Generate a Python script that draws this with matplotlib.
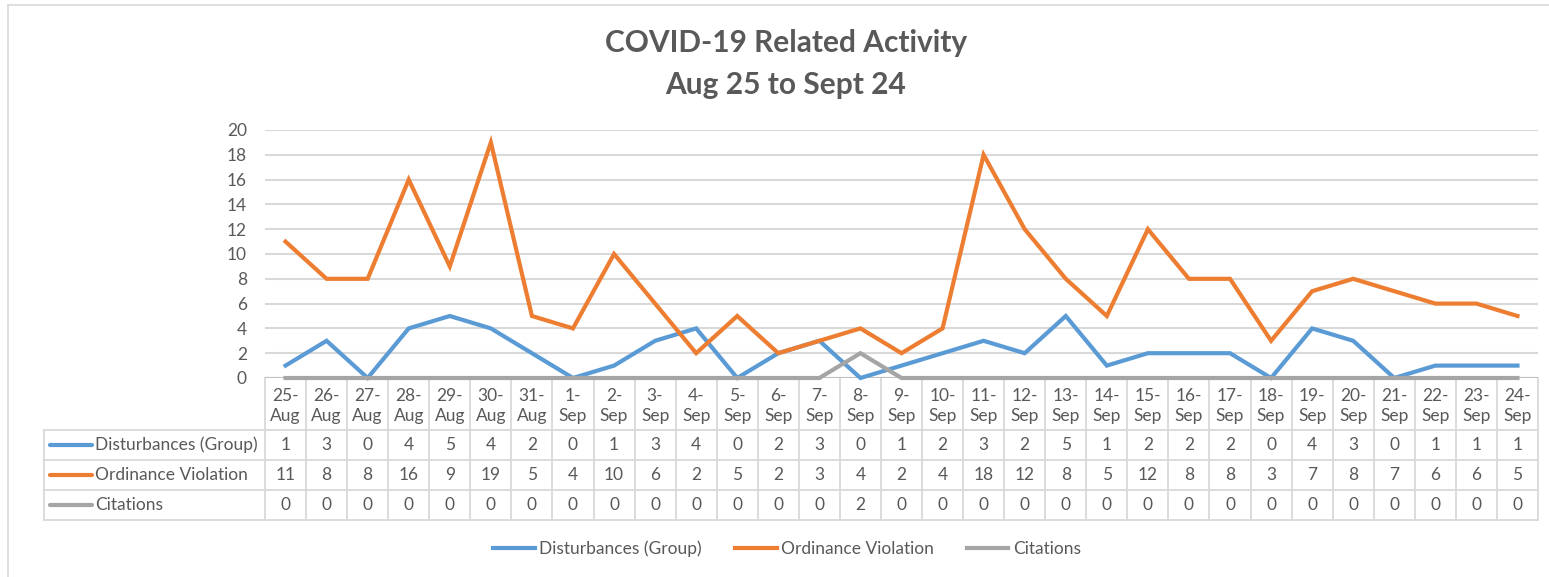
import matplotlib
matplotlib.use('Agg')
import matplotlib.pyplot as plt
from matplotlib.lines import Line2D

plt.rcParams['font.family'] = ['Lato', 'DejaVu Sans']

dates = ['25-Aug', '26-Aug', '27-Aug', '28-Aug', '29-Aug', '30-Aug', '31-Aug',
         '1-Sep', '2-Sep', '3-Sep', '4-Sep', '5-Sep', '6-Sep', '7-Sep', '8-Sep',
         '9-Sep', '10-Sep', '11-Sep', '12-Sep', '13-Sep', '14-Sep', '15-Sep',
         '16-Sep', '17-Sep', '18-Sep', '19-Sep', '20-Sep', '21-Sep', '22-Sep',
         '23-Sep', '24-Sep']
disturbances = [1, 3, 0, 4, 5, 4, 2, 0, 1, 3, 4, 0, 2, 3, 0, 1, 2, 3, 2, 5,
                1, 2, 2, 2, 0, 4, 3, 0, 1, 1, 1]
ordinance = [11, 8, 8, 16, 9, 19, 5, 4, 10, 6, 2, 5, 2, 3, 4, 2, 4, 18, 12, 8,
             5, 12, 8, 8, 3, 7, 8, 7, 6, 6, 5]
citations = [0, 0, 0, 0, 0, 0, 0, 0, 0, 0, 0, 0, 0, 0, 2, 0, 0, 0, 0, 0,
             0, 0, 0, 0, 0, 0, 0, 0, 0, 0, 0]
series_names = ['Disturbances (Group)', 'Ordinance Violation', 'Citations']
colors = ['#5B9BD5', '#ED7D31', '#A5A5A5']

W, H = 1549, 577
fig = plt.figure(figsize=(W / 100, H / 100), dpi=100)
txt = '#595959'
grid_c = '#d9d9d9'
fs = 12.5

# pixel overlay for the table and border
ov = fig.add_axes([0, 0, 1, 1])
ov.set_xlim(0, W)
ov.set_ylim(H, 0)
ov.axis('off')

# chart border (top + left visible)
ov.plot([8, W], [5, 5], color=grid_c, lw=1.2)
ov.plot([8, 8], [5, H], color=grid_c, lw=1.2)

x0, x1 = 265, 1538
y_top, y_bot = 130, 378
n = len(dates)
cw = (x1 - x0) / n

ax = fig.add_axes([x0 / W, 1 - y_bot / H, (x1 - x0) / W, (y_bot - y_top) / H])
ax.set_xlim(-0.5, n - 0.5)
ax.set_ylim(0, 20)
ax.set_yticks(range(0, 21, 2))
ax.set_xticks([])
for s in ax.spines.values():
    s.set_visible(False)
ax.yaxis.grid(True, color=grid_c, lw=1.5)
ax.set_axisbelow(True)
ax.tick_params(axis='y', length=0, pad=13, labelsize=fs, labelcolor=txt)
ax.axhline(0, color='#bfbfbf', lw=1.5, zorder=1)

xs = list(range(n))
all_series = [disturbances, ordinance, citations]
for vals, c, name in zip(all_series, colors, series_names):
    ax.plot(xs, vals, color=c, lw=3, label=name, solid_joinstyle='miter',
            clip_on=False, zorder=3)

# title
fig.text(786 / W, 1 - 43 / H, 'COVID-19 Related Activity', ha='center',
         va='center', fontsize=21.5, fontweight='bold', color=txt)
fig.text(786 / W, 1 - 85 / H, 'Aug 25 to Sept 24', ha='center',
         va='center', fontsize=21.5, fontweight='bold', color=txt)

# data table
tl = 44
rows_y = [430, 460, 490, 520]
lw_t = 1.3
for i in range(n + 1):
    x = x0 + i * cw
    ov.plot([x, x], [y_bot, rows_y[-1]], color=grid_c, lw=lw_t)
ov.plot([tl, tl], [rows_y[0], rows_y[-1]], color=grid_c, lw=lw_t)
for y in rows_y:
    ov.plot([tl, x1], [y, y], color=grid_c, lw=lw_t)

for i, d in enumerate(dates):
    cx = x0 + (i + 0.5) * cw
    day, mon = d.split('-')
    ov.text(cx, 396, day + '-', ha='center', va='center', fontsize=fs, color=txt)
    ov.text(cx, 416, mon, ha='center', va='center', fontsize=fs, color=txt)

for r, (vals, c, name) in enumerate(zip(all_series, colors, series_names)):
    cy = (rows_y[r] + rows_y[r + 1]) / 2
    ov.plot([50, 92], [cy, cy], color=c, lw=3, solid_capstyle='round')
    ov.text(95, cy, name, ha='left', va='center', fontsize=fs, color=txt)
    for i, v in enumerate(vals):
        cx = x0 + (i + 0.5) * cw
        ov.text(cx, cy, str(v), ha='center', va='center', fontsize=fs, color=txt)

handles = [Line2D([], [], color=c, lw=3) for c in colors]
fig.legend(handles, series_names, loc='center', bbox_to_anchor=(787 / W, 1 - 549 / H),
           ncol=3, frameon=False, fontsize=fs, labelcolor=txt, handlelength=2.4,
           handletextpad=0.25, columnspacing=1.9)

fig.savefig('out.png', dpi=100)
